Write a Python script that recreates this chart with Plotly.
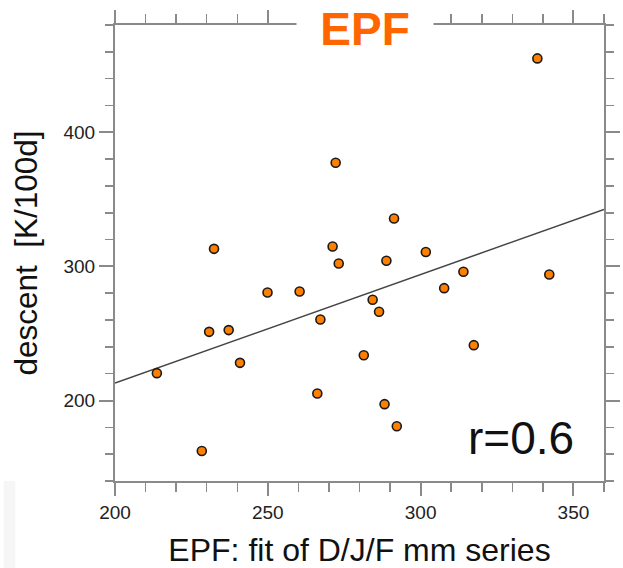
import plotly.graph_objects as go

# Data
epf = [213.7, 228.4, 230.8, 237.2, 240.9, 249.9, 260.4, 267.2, 266.2, 273.2,
       281.4, 284.3, 286.4, 288.2, 288.8, 292.2, 307.7, 314.0, 317.4, 342.1,
       338.2, 272.2, 291.3, 232.4, 271.2, 301.7]
descent = [220.4, 162.4, 251.2, 252.5, 228.1, 280.6, 281.3, 260.4, 205.2, 302.2,
           233.8, 275.1, 266.2, 197.3, 304.2, 180.8, 283.8, 296.0, 241.3, 294.0,
           455.1, 377.3, 335.7, 313.1, 314.8, 310.8]

fit_x = [200, 360]
fit_y = [213.0, 342.5]

title_text = "EPF"
x_title = "EPF: fit of D/J/F mm series"
y_title = "descent\u00a0\u00a0[K/100d]"
r_text = "r=0.6"
r_pos = [333, 172]

FONT = "Liberation Sans, Arial, Helvetica, sans-serif"
AXIS = "#8a8a8a"

fig = go.Figure()
fig.add_trace(go.Scatter(x=fit_x, y=fit_y, mode="lines",
                         line=dict(color="#444444", width=1.5),
                         hoverinfo="skip", showlegend=False))
fig.add_trace(go.Scatter(x=epf, y=descent, mode="markers",
                         marker=dict(size=9, color="#ff8000",
                                     line=dict(color="#1a1a1a", width=1.6)),
                         showlegend=False))

axis_common = dict(
    showgrid=False, zeroline=False, showline=True, linecolor=AXIS, linewidth=2,
    mirror="ticks", ticks="outside", tickcolor=AXIS, tickwidth=2,
    tickfont=dict(family=FONT, size=19, color="#222222"),
)

fig.update_xaxes(range=[200, 360], dtick=50, tick0=200, ticklen=13,
                 minor=dict(dtick=10, tick0=200, ticklen=9, ticks="outside",
                            tickcolor=AXIS, tickwidth=1.5),
                 title=dict(text=x_title, font=dict(family=FONT, size=32, color="#111111"),
                            standoff=20),
                 **axis_common)
fig.update_yaxes(range=[140, 480], dtick=100, tick0=200, ticklen=14,
                 minor=dict(dtick=20, tick0=140, ticklen=8, ticks="outside",
                            tickcolor=AXIS, tickwidth=1.5),
                 title=dict(text=y_title, font=dict(family=FONT, size=31.5, color="#111111"),
                            standoff=16),
                 **axis_common)

fig.add_annotation(text=r_text, x=r_pos[0], y=r_pos[1], xref="x", yref="y",
                   showarrow=False, font=dict(family=FONT, size=46, color="#111111"))

# title text with a white backing box that interrupts the top frame line
fig.add_annotation(text="<b>" + title_text + "</b>", x=0.5, y=1, xref="paper", yref="paper",
                   xanchor="center", yanchor="middle", yshift=-4, xshift=5,
                   showarrow=False, bgcolor="white", width=134, height=50,
                   font=dict(family=FONT, size=46, color="#ff6600"))

fig.add_shape(type="rect", xref="paper", yref="paper",
              x0=-115/505, x1=-103/505, y0=-87/456, y1=0,
              fillcolor="#f6f6f6", line=dict(width=0), layer="below")

fig.update_layout(
    width=623, height=568,
    margin=dict(l=115, r=3, t=25, b=87),
    paper_bgcolor="white", plot_bgcolor="white",
    showlegend=False,
)

# remove the default 8px page margin so the figure fills the window exactly
fig.write_html("out.html",
               config={"displayModeBar": False, "staticPlot": True},
               post_script="document.body.style.margin='0px';document.body.style.overflow='hidden';")
